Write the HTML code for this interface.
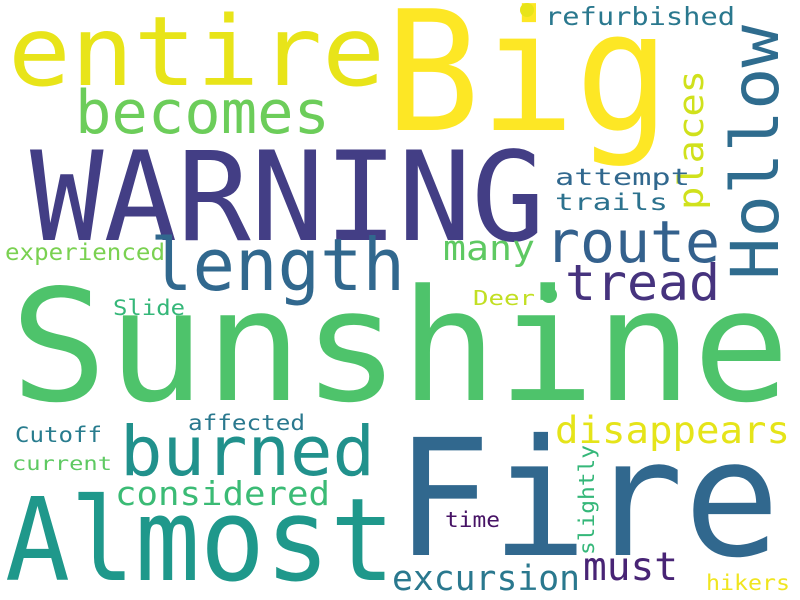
<!DOCTYPE html>
<html><head><meta charset="utf-8"><style>
html,body{margin:0;padding:0;background:#fff;}
svg{display:block;}
text{font-family:"DejaVu Sans Mono","Liberation Mono",monospace;}
</style></head><body>
<svg width="800" height="600" viewBox="0 0 800 600">
<rect width="800" height="600" fill="#ffffff"/>
<text x="385" y="130" font-size="167" fill="#fde725" textLength="285" lengthAdjust="spacingAndGlyphs">Big</text>
<text x="8" y="85" font-size="96" fill="#e8e419" textLength="377" lengthAdjust="spacingAndGlyphs">entire</text>
<text x="75" y="133" font-size="60" fill="#6ccd5a" textLength="255" lengthAdjust="spacingAndGlyphs">becomes</text>
<text x="30" y="240" font-size="124" fill="#433e85" textLength="515" lengthAdjust="spacingAndGlyphs">WARNING</text>
<text transform="translate(778,280) rotate(-90)" font-size="66" fill="#2f6c8e" textLength="255" lengthAdjust="spacingAndGlyphs">Hollow</text>
<text x="545" y="25" font-size="25" fill="#2a788e" textLength="190" lengthAdjust="spacingAndGlyphs">refurbished</text>
<text transform="translate(703,210) rotate(-90)" font-size="35" fill="#d0e11c" textLength="140" lengthAdjust="spacingAndGlyphs">places</text>
<text x="555" y="185" font-size="23" fill="#31688e" textLength="135" lengthAdjust="spacingAndGlyphs">attempt</text>
<text x="555" y="210" font-size="23" fill="#2c728e" textLength="113" lengthAdjust="spacingAndGlyphs">trails</text>
<text x="545" y="262" font-size="58" fill="#34618d" textLength="175" lengthAdjust="spacingAndGlyphs">route</text>
<text x="150" y="290" font-size="72" fill="#31688e" textLength="255" lengthAdjust="spacingAndGlyphs">length</text>
<text x="443" y="260" font-size="35" fill="#5ec962" textLength="92" lengthAdjust="spacingAndGlyphs">many</text>
<text x="565" y="300" font-size="50" fill="#46337e" textLength="155" lengthAdjust="spacingAndGlyphs">tread</text>
<text x="5" y="260" font-size="23" fill="#7ad151" textLength="160" lengthAdjust="spacingAndGlyphs">experienced</text>
<text x="10" y="400" font-size="155" fill="#4ec36b" textLength="780" lengthAdjust="spacingAndGlyphs">Sunshine</text>
<circle cx="549" cy="295" r="8" fill="#4ec36b"/>
<circle cx="527" cy="10" r="7" fill="#e8e419"/>
<text x="473" y="305" font-size="20" fill="#c2df23" textLength="62" lengthAdjust="spacingAndGlyphs">Deer</text>
<text x="113" y="315" font-size="21" fill="#35b779" textLength="72" lengthAdjust="spacingAndGlyphs">Slide</text>
<text x="188" y="430" font-size="21" fill="#2a788e" textLength="117" lengthAdjust="spacingAndGlyphs">affected</text>
<text x="555" y="443" font-size="37" fill="#e5e419" textLength="235" lengthAdjust="spacingAndGlyphs">disappears</text>
<text x="15" y="442" font-size="21" fill="#287c8e" textLength="87" lengthAdjust="spacingAndGlyphs">Cutoff</text>
<text x="120" y="475" font-size="69" fill="#21918c" textLength="255" lengthAdjust="spacingAndGlyphs">burned</text>
<text x="12" y="470" font-size="19" fill="#5ec962" textLength="100" lengthAdjust="spacingAndGlyphs">current</text>
<text x="395" y="555" font-size="162" fill="#31688e" textLength="385" lengthAdjust="spacingAndGlyphs">Fire</text>
<text x="115" y="505" font-size="33" fill="#3bbb75" textLength="215" lengthAdjust="spacingAndGlyphs">considered</text>
<text x="5" y="580" font-size="115" fill="#1f988b" textLength="390" lengthAdjust="spacingAndGlyphs">Almost</text>
<text transform="translate(594,555) rotate(-90)" font-size="21" fill="#35b779" textLength="110" lengthAdjust="spacingAndGlyphs">slightly</text>
<text x="445" y="527" font-size="21" fill="#471365" textLength="55" lengthAdjust="spacingAndGlyphs">time</text>
<text x="392" y="590" font-size="35" fill="#2a788e" textLength="188" lengthAdjust="spacingAndGlyphs">excursion</text>
<text x="583" y="580" font-size="39" fill="#482475" textLength="95" lengthAdjust="spacingAndGlyphs">must</text>
<text x="706" y="590" font-size="21" fill="#f0e51f" textLength="84" lengthAdjust="spacingAndGlyphs">hikers</text>
</svg>
</body></html>
